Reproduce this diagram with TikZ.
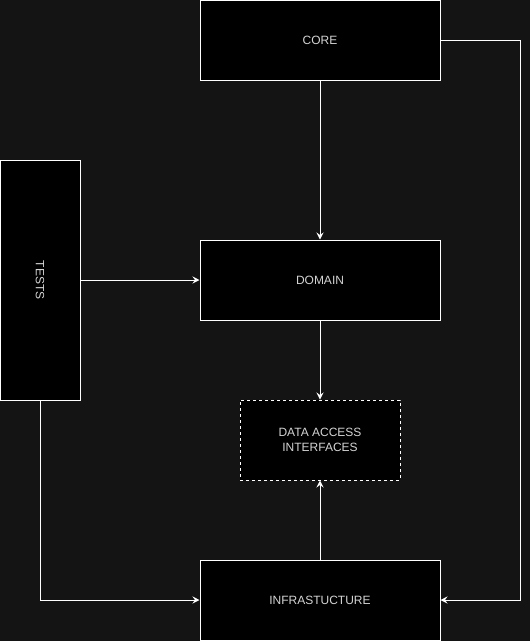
\documentclass[tikz,border=0pt]{standalone}
\usepackage{fontspec}
\setmainfont{Liberation Sans}
\usepackage{tikz}
\usetikzlibrary{arrows.meta,positioning}
\definecolor{bgdark}{HTML}{141414}
\definecolor{labelgray}{HTML}{D4D4D4}
\tikzset{
  every picture/.style = {
    x = 1pt,
    y = -1pt,
    line width = 1pt,
    >={Stealth[length=7pt,width=7pt,inset=2.5pt]},
  }
  ,
  layer/.style = {
    rectangle,
    draw = white,
    fill = black,
    text = labelgray,
    font = \fontsize{12}{15}\selectfont,
    align = center,
    inner sep = 0pt,
    minimum width = 240pt,
    minimum height = 80pt
  }
  , % the interfaces box
  layer-iface/.style = {
    layer,
    dash pattern = on 3pt off 3pt,
    minimum width = 160pt
  }
  , % arrows between layers
  dep/.style = {
    ->,
    draw = white
  }
}

\begin{document}
\begin{tikzpicture}
		\fill[bgdark] (0,0) rectangle (530,641);
		\useasboundingbox (0,0) rectangle (530,641);

		\node at (320,40) [layer] (core) {CORE};
		\node at (320,280) [layer] (domain) {DOMAIN};
		\node at (320,440) [layer-iface] (iface) {DATA ACCESS\\INTERFACES};
		\node at (320,600) [layer] (infra) {INFRASTUCTURE};
		\node at (40,280) [layer, minimum width = 80pt, minimum height = 240pt] (tests) {};
		\node at (tests.center) [rotate=-90, text = labelgray, font = \fontsize{12}{15}\selectfont] (testslabel) {TESTS};
		\coordinate (corner) at (520,40);

		\draw[dep] (core) -- (domain);
		\draw[dep] (core.east) -- (corner) |- (infra.east);
		\draw[dep] (tests) -- (domain);
		\draw[dep] (tests.south) |- (infra.west);
		\draw[dep] (domain) -- (iface);
		\draw[dep] (infra) -- (iface);
		\end{tikzpicture}
\end{document}
